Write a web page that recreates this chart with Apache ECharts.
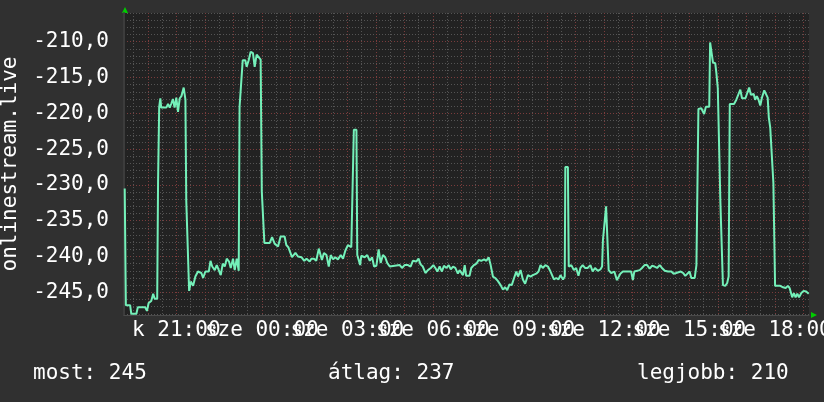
<!DOCTYPE html>
<html>
<head>
<meta charset="utf-8">
<title>onlinestream.live</title>
<script src="https://cdn.jsdelivr.net/npm/echarts@6.0.0/dist/echarts.min.js"></script>
<style>
  html, body { margin: 0; padding: 0; background: #303030; }
  #chart { width: 824px; height: 402px; }
</style>
</head>
<body>
<div id="chart"></div>
<script>
// idő órában (kedd 00:00-tól számolva), a szerdai órák 24 fölött vannak
var times = [
  19.19, 19.23, 19.38, 19.42, 19.60, 19.65, 19.91, 19.97, 20.03, 20.12,
  20.19, 20.24, 20.33, 20.36, 20.40, 20.44, 20.47, 20.65, 20.71, 20.77,
  20.82, 20.88, 20.94, 21.00, 21.06, 21.12, 21.18, 21.26, 21.32, 21.35,
  21.41, 21.45, 21.51, 21.59, 21.67, 21.76, 21.88, 21.94, 22.02, 22.14,
  22.20, 22.26, 22.35, 22.42, 22.49, 22.56, 22.63, 22.70, 22.77, 22.85,
  22.91, 22.99, 23.05, 23.12, 23.19, 23.22, 23.28, 23.33, 23.42, 23.47,
  23.54, 23.61, 23.69, 23.75, 23.82, 23.89, 23.96, 24.00, 24.05, 24.09,
  24.28, 24.36, 24.45, 24.57, 24.66, 24.80, 24.86, 24.93, 25.06, 25.18,
  25.27, 25.39, 25.49, 25.57, 25.68, 25.74, 25.83, 25.91, 26.00, 26.07,
  26.11, 26.18, 26.27, 26.35, 26.42, 26.50, 26.58, 26.67, 26.77, 26.85,
  26.93, 27.02, 27.14, 27.20, 27.23, 27.32, 27.35, 27.42, 27.45, 27.49,
  27.61, 27.70, 27.79, 27.87, 27.94, 28.02, 28.10, 28.17, 28.25, 28.33,
  28.40, 28.49, 28.66, 28.84, 28.92, 29.01, 29.13, 29.22, 29.30, 29.42,
  29.50, 29.57, 29.65, 29.74, 29.83, 29.93, 30.02, 30.09, 30.16, 30.24,
  30.32, 30.39, 30.48, 30.56, 30.63, 30.71, 30.79, 30.88, 30.94, 31.06,
  31.12, 31.17, 31.29, 31.35, 31.44, 31.53, 31.61, 31.70, 31.80, 31.88,
  31.96, 32.03, 32.11, 32.19, 32.28, 32.38, 32.46, 32.54, 32.61, 32.69,
  32.77, 32.87, 32.93, 32.99, 33.08, 33.16, 33.24, 33.34, 33.43, 33.51,
  33.63, 33.71, 33.78, 33.86, 33.95, 34.04, 34.13, 34.25, 34.33, 34.41,
  34.48, 34.57, 34.63, 34.65, 34.74, 34.77, 34.86, 34.95, 35.03, 35.11,
  35.18, 35.26, 35.34, 35.43, 35.53, 35.61, 35.69, 35.79, 35.88, 35.94,
  35.97, 36.04, 36.08, 36.14, 36.17, 36.26, 36.37, 36.46, 36.51, 36.58,
  36.67, 36.78, 36.96, 37.02, 37.07, 37.26, 37.34, 37.43, 37.52, 37.61,
  37.69, 37.78, 37.87, 37.96, 38.04, 38.14, 38.25, 38.37, 38.45, 38.54,
  38.70, 38.78, 38.86, 38.93, 39.01, 39.07, 39.19, 39.25, 39.28, 39.32,
  39.42, 39.52, 39.58, 39.70, 39.73, 39.80, 39.83, 39.91, 39.95, 40.00,
  40.06, 40.09, 40.14, 40.18, 40.26, 40.33, 40.38, 40.42, 40.57, 40.65,
  40.71, 40.79, 40.85, 40.97, 41.03, 41.10, 41.16, 41.26, 41.31, 41.37,
  41.43, 41.49, 41.55, 41.63, 41.70, 41.75, 41.79, 41.84, 41.90, 41.95,
  41.99, 42.01, 42.19, 42.29, 42.38, 42.46, 42.52, 42.61, 42.67, 42.73,
  42.79, 42.85, 42.93, 43.01, 43.10, 43.19
];
var values = [
  -230.5, -246.8, -246.8, -248.0, -248.0, -247.1, -247.1, -247.6, -246.5, -246.2,
  -245.2, -245.9, -245.9, -229.6, -219.1, -217.9, -219.2, -219.2, -218.7, -219.2,
  -218.7, -218.0, -219.2, -217.8, -219.8, -217.9, -217.6, -216.4, -218.1, -232.2,
  -232.2, -244.8, -243.5, -244.1, -242.8, -242.1, -242.3, -243.0, -242.1, -242.1,
  -240.6, -241.4, -241.9, -241.2, -241.2, -242.6, -241.0, -241.4, -240.3, -240.7,
  -241.6, -240.3, -241.9, -240.3, -242.0, -219.1, -219.1, -212.6, -212.6, -213.5,
  -212.6, -211.4, -211.6, -213.5, -211.8, -212.0, -212.5, -230.9, -230.9, -238.1,
  -238.1, -237.3, -238.2, -238.6, -237.2, -237.2, -238.4, -238.7, -240.1, -239.5,
  -240.0, -240.1, -240.6, -240.3, -240.7, -240.3, -240.3, -240.6, -238.9, -238.9,
  -240.5, -239.5, -239.8, -241.4, -239.8, -240.4, -240.1, -240.4, -239.8, -240.3,
  -239.2, -238.4, -238.7, -238.7, -222.3, -222.3, -239.8, -239.8, -241.2, -239.9,
  -240.1, -239.8, -240.6, -240.1, -241.4, -241.3, -239.0, -240.9, -239.8, -240.1,
  -240.9, -241.4, -241.3, -241.2, -241.6, -241.2, -241.2, -241.4, -240.6, -240.7,
  -240.3, -241.1, -241.4, -242.3, -241.9, -241.6, -241.2, -241.6, -242.1, -241.4,
  -242.1, -241.3, -241.6, -241.2, -241.8, -241.4, -241.6, -242.4, -241.9, -242.6,
  -241.2, -242.7, -242.7, -241.6, -241.2, -241.0, -240.5, -240.6, -240.4, -240.6,
  -240.1, -241.2, -242.8, -243.0, -243.4, -244.0, -244.6, -244.3, -244.7, -243.9,
  -244.0, -242.8, -242.1, -242.8, -241.9, -243.2, -243.8, -242.6, -242.8, -242.6,
  -242.4, -242.1, -241.2, -241.6, -241.2, -241.4, -242.1, -243.2, -243.0, -243.2,
  -242.6, -243.2, -242.8, -227.5, -227.5, -241.4, -241.2, -241.9, -241.6, -242.7,
  -241.6, -241.2, -241.6, -241.6, -241.2, -242.1, -241.6, -242.0, -241.8, -241.4,
  -237.7, -237.6, -233.0, -233.0, -241.9, -242.3, -242.1, -243.3, -243.2, -242.4,
  -242.1, -242.1, -242.1, -243.3, -242.1, -241.9, -241.6, -241.2, -241.2, -241.7,
  -241.3, -241.4, -241.6, -241.2, -241.6, -242.0, -242.1, -242.1, -242.4, -242.3,
  -242.1, -242.3, -242.7, -242.7, -242.1, -243.0, -243.0, -241.2, -241.0, -219.4,
  -219.3, -220.1, -219.1, -219.1, -210.1, -210.1, -212.9, -213.0, -214.4, -216.5,
  -216.7, -232.3, -232.5, -244.0, -244.1, -243.7, -242.8, -218.7, -218.7, -218.1,
  -217.9, -216.7, -217.9, -217.9, -217.2, -216.4, -217.4, -217.3, -218.1, -217.6,
  -218.1, -218.9, -217.8, -216.8, -216.9, -217.8, -220.6, -222.0, -222.0, -229.7,
  -229.7, -244.1, -244.1, -244.3, -244.4, -244.1, -244.4, -245.7, -245.1, -245.7,
  -245.2, -245.7, -245.1, -244.8, -244.9, -245.2
];

var yLabelTicks = [-245, -240, -235, -230, -225, -220, -215, -210];
var xLabelHours = [21, 24, 27, 30, 33, 36, 39, 42];
var xLabelTexts = ['k 21:00', 'sze 00:00', 'sze 03:00', 'sze 06:00',
                   'sze 09:00', 'sze 12:00', 'sze 15:00', 'sze 18:00'];
var statNames = ['most', 'átlag', 'legjobb'];
var statValues = [245, 237, 210];

var FONT = 'DejaVu Sans Mono';
var xMin = 19.165, xMax = 43.2;
var yMin = -248.17, yMax = -205.99;

// rács: óránként piros, félóránként szürke; 5 egységenként piros, egységenként szürke
var hourTicks = [], halfHourTicks = [], unitTicks = [];
for (var h = 20; h <= 43; h++) hourTicks.push(h);
for (var hh = 19.5; hh <= 43; hh++) halfHourTicks.push(hh);
for (var u = -248; u <= -206; u++) if (u % 5 !== 0) unitTicks.push(u);

// a feliratok egymásba lógnak, ezért felváltva két tengelyre kerülnek (különben az echarts elrejt párat)
var labelsA = xLabelHours.filter(function (h, i) { return i % 2 === 0; });
var labelsB = xLabelHours.filter(function (h, i) { return i % 2 === 1; });

var redLine = { color: '#7a3c3c', width: 1, type: [1, 2] };
var greyLine = { color: '#545454', width: 1, type: [1, 2] };

function xLabel(v) {
  var i = xLabelHours.indexOf(Math.round(v));
  return i >= 0 ? xLabelTexts[i] : '';
}
var xLabelStyle = {
  showMinLabel: true, showMaxLabel: true, hideOverlap: false,
  color: '#ffffff', fontFamily: FONT, fontSize: 21, margin: 5,
  formatter: xLabel
};

var myChart = echarts.init(document.getElementById('chart'));

var option = {
  backgroundColor: '#303030',
  animation: false,
  grid: {
    left: 124, right: 15, top: 13, bottom: 87,
    containLabel: false, outerBoundsMode: 'none',
    show: true, backgroundColor: '#222222', borderWidth: 0
  },
  xAxis: [
    {
      type: 'value', min: xMin, max: xMax, position: 'bottom',
      axisLine: { show: true, onZero: false, lineStyle: { color: '#4a4a4a' } },
      axisTick: { show: false, customValues: hourTicks },
      splitLine: { show: true, lineStyle: redLine },
      axisLabel: Object.assign({ customValues: labelsA }, xLabelStyle)
    },
    {
      type: 'value', min: xMin, max: xMax, position: 'top',
      axisLine: { show: false },
      axisTick: { show: false, customValues: halfHourTicks },
      axisLabel: { show: false },
      splitLine: { show: true, lineStyle: greyLine }
    },
    {
      type: 'value', min: xMin, max: xMax, position: 'bottom',
      axisLine: { show: false, onZero: false },
      axisTick: { show: false },
      splitLine: { show: false },
      axisLabel: Object.assign({ customValues: labelsB }, xLabelStyle)
    }
  ],
  yAxis: [
    {
      type: 'value', min: yMin, max: yMax,
      name: 'onlinestream.live', nameLocation: 'middle', nameRotate: 90, nameGap: 103,
      nameMoveOverlap: false,
      nameTextStyle: { color: '#ffffff', fontFamily: FONT, fontSize: 21 },
      axisLine: { show: true, lineStyle: { color: '#3c3c3c', width: 2 } },
      axisTick: { show: false, customValues: yLabelTicks },
      splitLine: { show: true, lineStyle: redLine },
      axisLabel: {
        customValues: yLabelTicks,
        showMinLabel: true, showMaxLabel: true,
        color: '#ffffff', fontFamily: FONT, fontSize: 21, margin: 15,
        formatter: function (v) { return v.toFixed(1).replace('.', ','); }
      }
    },
    {
      type: 'value', min: yMin, max: yMax,
      axisLine: { show: false },
      axisTick: { show: false, customValues: unitTicks },
      axisLabel: { show: false },
      splitLine: { show: true, lineStyle: greyLine }
    }
  ],
  graphic: [
    { type: 'polygon', shape: { points: [[122, 13], [128, 13], [125, 7]] }, style: { fill: '#00cc00' } },
    { type: 'polygon', shape: { points: [[811, 312], [811, 318], [817, 315]] }, style: { fill: '#00cc00' } },
    { type: 'text', x: 33, y: 374, style: { text: statNames[0] + ': ' + statValues[0], fill: '#ffffff', font: '21px "' + FONT + '"', verticalAlign: 'middle' } },
    { type: 'text', x: 328, y: 374, style: { text: statNames[1] + ': ' + statValues[1], fill: '#ffffff', font: '21px "' + FONT + '"', verticalAlign: 'middle' } },
    { type: 'text', x: 637, y: 374, style: { text: statNames[2] + ': ' + statValues[2], fill: '#ffffff', font: '21px "' + FONT + '"', verticalAlign: 'middle' } }
  ],
  series: [
    {
      type: 'line',
      xAxisIndex: 0, yAxisIndex: 0,
      data: times.map(function (t, i) { return [t, values[i]]; }),
      symbol: 'none',
      lineStyle: { color: '#74f0b9', width: 2 },
      itemStyle: { color: '#74f0b9' },
      z: 5
    }
  ]
};

myChart.setOption(option);
</script>
</body>
</html>
